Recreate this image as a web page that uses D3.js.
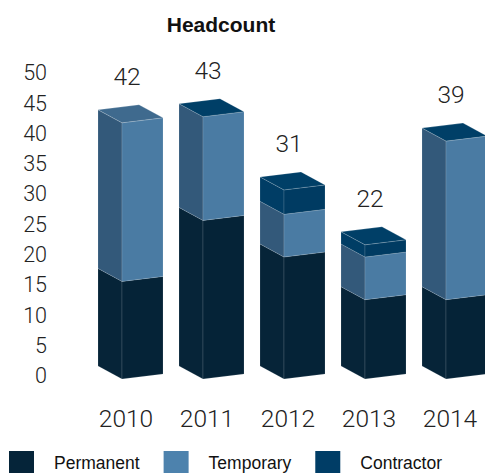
<!DOCTYPE html>
<html>
<head>
<meta charset="utf-8">
<script src="https://cdn.jsdelivr.net/npm/d3@7/dist/d3.min.js"></script>
<style>
  html, body { margin: 0; padding: 0; background: #fff; }
  svg { display: block; }
</style>
</head>
<body>
<svg id="chart" width="485" height="473"></svg>
<script>
// Headcount by year, stacked by employment type
const years = ["2010", "2011", "2012", "2013", "2014"];
const permanent = [16, 26, 20, 13, 13];
const temporary = [26, 17, 7, 7, 26];
const contractor = [null, 0, 4, 2, 0];   // null = no contractor segment
const yTicks = [0, 5, 10, 15, 20, 25, 30, 35, 40, 45, 50];

const seriesNames = ["Permanent", "Temporary", "Contractor"];
const seriesValues = [permanent, temporary, contractor];

// face shades per series: front, side, top
const shades = {
  Permanent:  { front: "#052337", side: "#062438", top: "#0b2d44", legend: "#052439" },
  Temporary:  { front: "#4a7ba3", side: "#33597a", top: "#3f6a8e", legend: "#4d82ad" },
  Contractor: { front: "#003b62", side: "#003d65", top: "#003f67", legend: "#003d66" }
};

const svg = d3.select("#chart");
const lightFont = "'Helvetica Neue', Roboto, 'Liberation Sans', Arial, sans-serif";
const sansFont = "'Liberation Sans', Arial, Helvetica, sans-serif";

// box projection parameters
const W = 41;   // front face width
const S = 5;    // front edge rise left->right
const D = 24;   // side face width
const DY = 13;  // side face rise going back

const x = d3.scalePoint().domain(years).range([122, 446]);
const y = d3.scaleLinear().domain([0, 50]).range([379, 379 - 50 * 6.1]);
const yAxisScale = d3.scaleLinear().domain([0, 50]).range([375, 72]);

// title
svg.append("text")
  .attr("x", 221).attr("y", 32)
  .attr("text-anchor", "middle")
  .attr("font-family", sansFont)
  .attr("font-weight", "bold")
  .attr("font-size", 21)
  .attr("fill", "#111")
  .text("Headcount");

// value axis (labels only)
const axisG = svg.append("g")
  .attr("transform", "translate(47,0)")
  .call(d3.axisLeft(yAxisScale).tickValues(yTicks).tickSize(0).tickPadding(0));
axisG.select(".domain").remove();
axisG.selectAll("text")
  .attr("font-family", lightFont)
  .attr("font-weight", 300)
  .attr("font-size", 21.5)
  .attr("fill", "#222")
  .attr("dy", "0.36em");

const pts = p => p.map(d => d.join(",")).join(" ");
const edge = "rgba(255,255,255,0.22)";

const barsG = svg.append("g");

years.forEach((yr, i) => {
  const x0 = x(yr);
  const g = barsG.append("g");
  let base = 0;
  let topSeries = null;
  seriesNames.forEach((name, s) => {
    const v = seriesValues[s][i];
    if (v === null || v === undefined) return;
    const b = y(base), t = y(base + v);
    const c = shades[name];
    if (v > 0) {
      // side face
      g.append("polygon")
        .attr("points", pts([[x0 - D, b - DY], [x0, b], [x0, t], [x0 - D, t - DY]]))
        .attr("fill", c.side).attr("stroke", edge).attr("stroke-width", 0.6);
      // front face
      g.append("polygon")
        .attr("points", pts([[x0, b], [x0 + W, b - S], [x0 + W, t - S], [x0, t]]))
        .attr("fill", c.front).attr("stroke", edge).attr("stroke-width", 0.6);
    }
    base += v;
    topSeries = name;
  });
  // cap of the topmost segment
  const t = y(base);
  g.append("polygon")
    .attr("points", pts([[x0, t], [x0 + W, t - S], [x0 + W - D, t - S - DY], [x0 - D, t - DY]]))
    .attr("fill", shades[topSeries].top).attr("stroke", "rgba(255,255,255,0.3)").attr("stroke-width", 0.6);

  // total label
  svg.append("text")
    .attr("x", x0 + 5).attr("y", t - 38)
    .attr("text-anchor", "middle")
    .attr("font-family", lightFont)
    .attr("font-weight", 300)
    .attr("font-size", 24.5)
    .attr("fill", "#222")
    .text(base);

  // category label
  svg.append("text")
    .attr("x", x0 + 4).attr("y", 427)
    .attr("text-anchor", "middle")
    .attr("font-family", lightFont)
    .attr("font-weight", 300)
    .attr("font-size", 24.5)
    .attr("fill", "#222")
    .text(yr);
});

// legend
const legend = svg.append("g");
let lx = 9;
seriesNames.forEach(name => {
  legend.append("rect")
    .attr("x", lx).attr("y", 451).attr("width", 25).attr("height", 25)
    .attr("fill", shades[name].legend);
  const txt = legend.append("text")
    .attr("x", lx + 45).attr("y", 469)
    .attr("font-family", sansFont)
    .attr("font-size", 17.5)
    .attr("fill", "#111")
    .text(name);
  lx = lx + 45 + txt.node().getComputedTextLength() + 24;
});
</script>
</body>
</html>
